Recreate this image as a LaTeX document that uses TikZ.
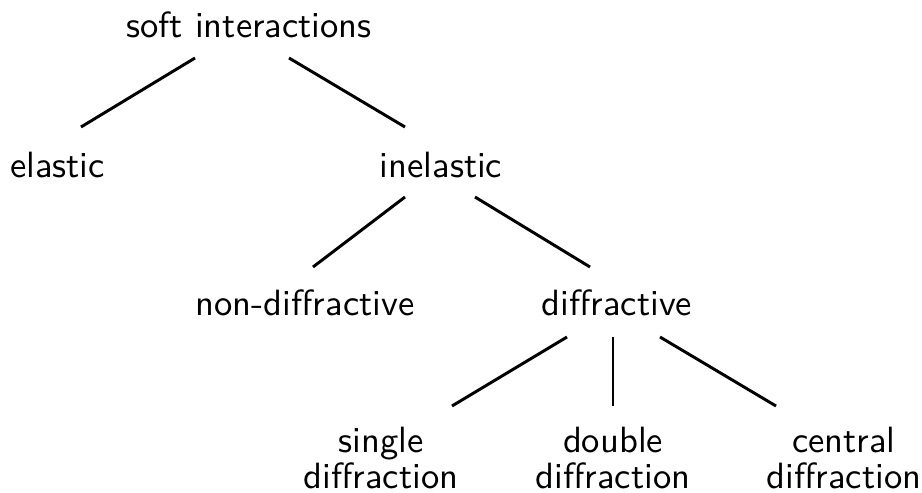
\documentclass[tikz,border=0pt]{standalone}
\usepackage{fontspec}
\setsansfont{lmsans10-regular.otf}
\begin{document}
\begin{tikzpicture}[x=0.025cm,y=-0.025cm,
  lbl/.style={anchor=base,inner sep=0pt,font=\sffamily\fontsize{26}{25.4}\selectfont,align=center},
  conn/.style={line width=2.1pt}]
\useasboundingbox (0,0) rectangle (922,493);
\node[lbl] (soft) at (249,37) {soft interactions};
\node[lbl] (elastic) at (57.5,177) {elastic};
\node[lbl] (inel) at (441,177) {inelastic};
\node[lbl] (nondiff) at (305,315) {non-diffractive};
\node[lbl] (diff) at (617,315) {diffractive};
\node[lbl] (single) at (381,488) {single\\diffraction};
\node[lbl] (double) at (613,488) {double\\diffraction};
\node[lbl] (central) at (844,488) {central\\diffraction};
\draw[conn] ([shift={(-54,21)}]soft.base) -- ([shift={(23.5,-50)}]elastic.base);
\draw[conn] ([shift={(40,21)}]soft.base) -- ([shift={(-36,-50)}]inel.base);
\draw[conn] ([shift={(-36,20)}]inel.base) -- ([shift={(8,-48)}]nondiff.base);
\draw[conn] ([shift={(34,20)}]inel.base) -- ([shift={(-27,-48)}]diff.base);
\draw[conn] ([shift={(-50,22)}]diff.base) -- ([shift={(71,-82)}]single.base);
\draw[conn] ([shift={(-4,22)}]diff.base) -- ([shift={(0,-82)}]double.base);
\draw[conn] ([shift={(43,22)}]diff.base) -- ([shift={(-68,-82)}]central.base);
\end{tikzpicture}
\end{document}
